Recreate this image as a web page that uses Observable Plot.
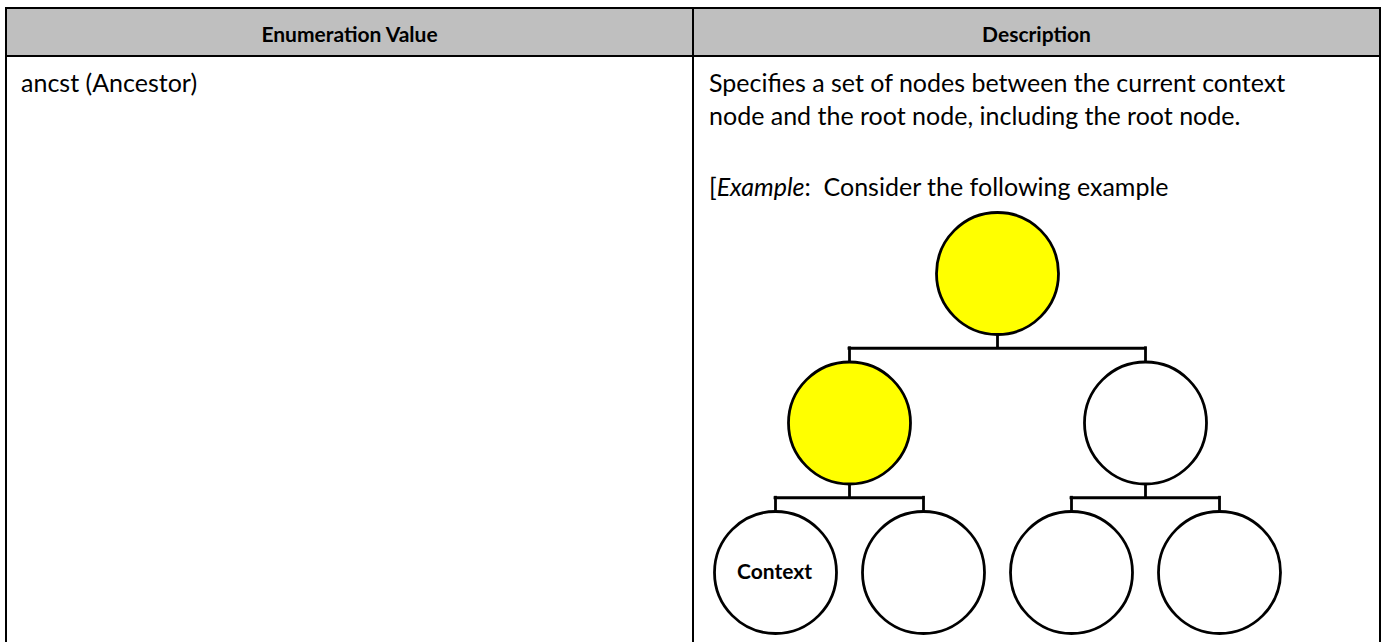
<!DOCTYPE html>
<html>
<head>
<meta charset="utf-8">
<script src="https://cdn.jsdelivr.net/npm/d3@7"></script>
<script src="https://cdn.jsdelivr.net/npm/@observablehq/plot@0.6"></script>
<style>
  html, body { margin: 0; padding: 0; background: #fff; }
  body { width: 1383px; height: 642px; overflow: hidden; position: relative; font-family: Lato, "Open Sans", sans-serif; color: #000; }
  .abs { position: absolute; }
  .hdr { background: #bfbfbf; }
  .line { background: #000; }
  .txt { font-size: 25px; line-height: 33px; white-space: pre; }
  .hd { font-size: 21px; font-weight: bold; line-height: 33px; text-align: center; white-space: nowrap; }
  #tree { position: absolute; left: 694px; top: 200px; }
</style>
</head>
<body>
<div id="root"></div>
<script>
// ---- table content ----
const headers = ["Enumeration Value", "Description"];
const enumValue = "ancst (Ancestor)";
const descriptionLines = [
  "Specifies a set of nodes between the current context",
  "node and the root node, including the root node."
];
const examplePrefix = "[";
const exampleWord = "Example";
const exampleRest = ":  Consider the following example";

// ---- tree diagram data ----
const nodeIds     = ["root", "midL", "midR", "ctx", "leaf2", "leaf3", "leaf4"];
const nodeParents = [null,   "root", "root", "midL", "midL", "midR", "midR"];
const nodeOnPath  = [true,   true,   false,  false,  false,  false,  false];
const nodeLabels  = ["",     "",     "",     "Context", "",  "",     ""];

const root = document.getElementById("root");
function add(cls, style, html) {
  const d = document.createElement("div");
  d.className = cls;
  Object.assign(d.style, style);
  if (html != null) d.innerHTML = html;
  root.appendChild(d);
  return d;
}

// header background
add("abs hdr", {left: "7px", top: "9px", width: "1372px", height: "46px"});
// texts
add("abs hd", {left: "7px", width: "685px", top: "17px"}, headers[0]);
add("abs hd", {left: "694px", width: "685px", top: "17px"}, headers[1]);
add("abs txt", {left: "21px", top: "66px"}, enumValue);
add("abs txt", {left: "709px", top: "66px"}, descriptionLines.join("\n"));
add("abs txt", {left: "709px", top: "170px"}, examplePrefix + "<i>" + exampleWord + "</i>" + exampleRest);

// tree via Plot
const stratified = d3.stratify().id((d) => d.id).parentId((d) => d.parent)(
  nodeIds.map((id, i) => ({id, parent: nodeParents[i], onPath: nodeOnPath[i], label: nodeLabels[i]}))
);
d3.tree().nodeSize([1, 1]).separation(() => 1)(stratified);
const nodes = stratified.descendants();
const links = stratified.links();
const parents = nodes.filter((d) => d.children);

const plot = Plot.plot({
  width: 686,
  height: 442,
  margin: 0,
  style: {background: "transparent", overflow: "visible"},
  x: {domain: [-1.5, 1.5], range: [81, 525], axis: null},
  y: {domain: [0, 2], range: [73, 372], axis: null},
  marks: [
    Plot.ruleX(parents, {x: (d) => d.x, y1: (d) => d.depth, y2: (d) => d.depth + 0.5, stroke: "#000", strokeWidth: 2.8}),
    Plot.ruleY(parents, {y: (d) => d.depth + 0.5, x1: (d) => d3.min(d.children, (c) => c.x), x2: (d) => d3.max(d.children, (c) => c.x), stroke: "#000", strokeWidth: 2.8, strokeLinecap: "square"}),
    Plot.ruleX(links, {x: (d) => d.target.x, y1: (d) => d.source.depth + 0.5, y2: (d) => d.target.depth, stroke: "#000", strokeWidth: 2.8, strokeLinecap: "square"}),
    Plot.dot(nodes, {x: (d) => d.x, y: (d) => d.depth, r: 61, fill: (d) => d.data.onPath ? "#ffff00" : "#ffffff", stroke: "#000", strokeWidth: 2.8}),
    Plot.text(nodes.filter((d) => d.data.label), {x: (d) => d.x, y: (d) => d.depth, dx: -1, text: (d) => d.data.label, fontSize: 21, fontWeight: "bold", fontFamily: "Lato", fill: "#000"})
  ]
});
plot.id = "tree";
root.appendChild(plot);

// borders (on top)
add("abs line", {left: "5px", top: "7px", width: "1376px", height: "2px"});
add("abs line", {left: "5px", top: "7px", width: "2px", height: "640px"});
add("abs line", {left: "1379px", top: "7px", width: "2px", height: "640px"});
add("abs line", {left: "692px", top: "7px", width: "2px", height: "640px"});
add("abs line", {left: "5px", top: "55px", width: "1376px", height: "2px"});
</script>
</body>
</html>
